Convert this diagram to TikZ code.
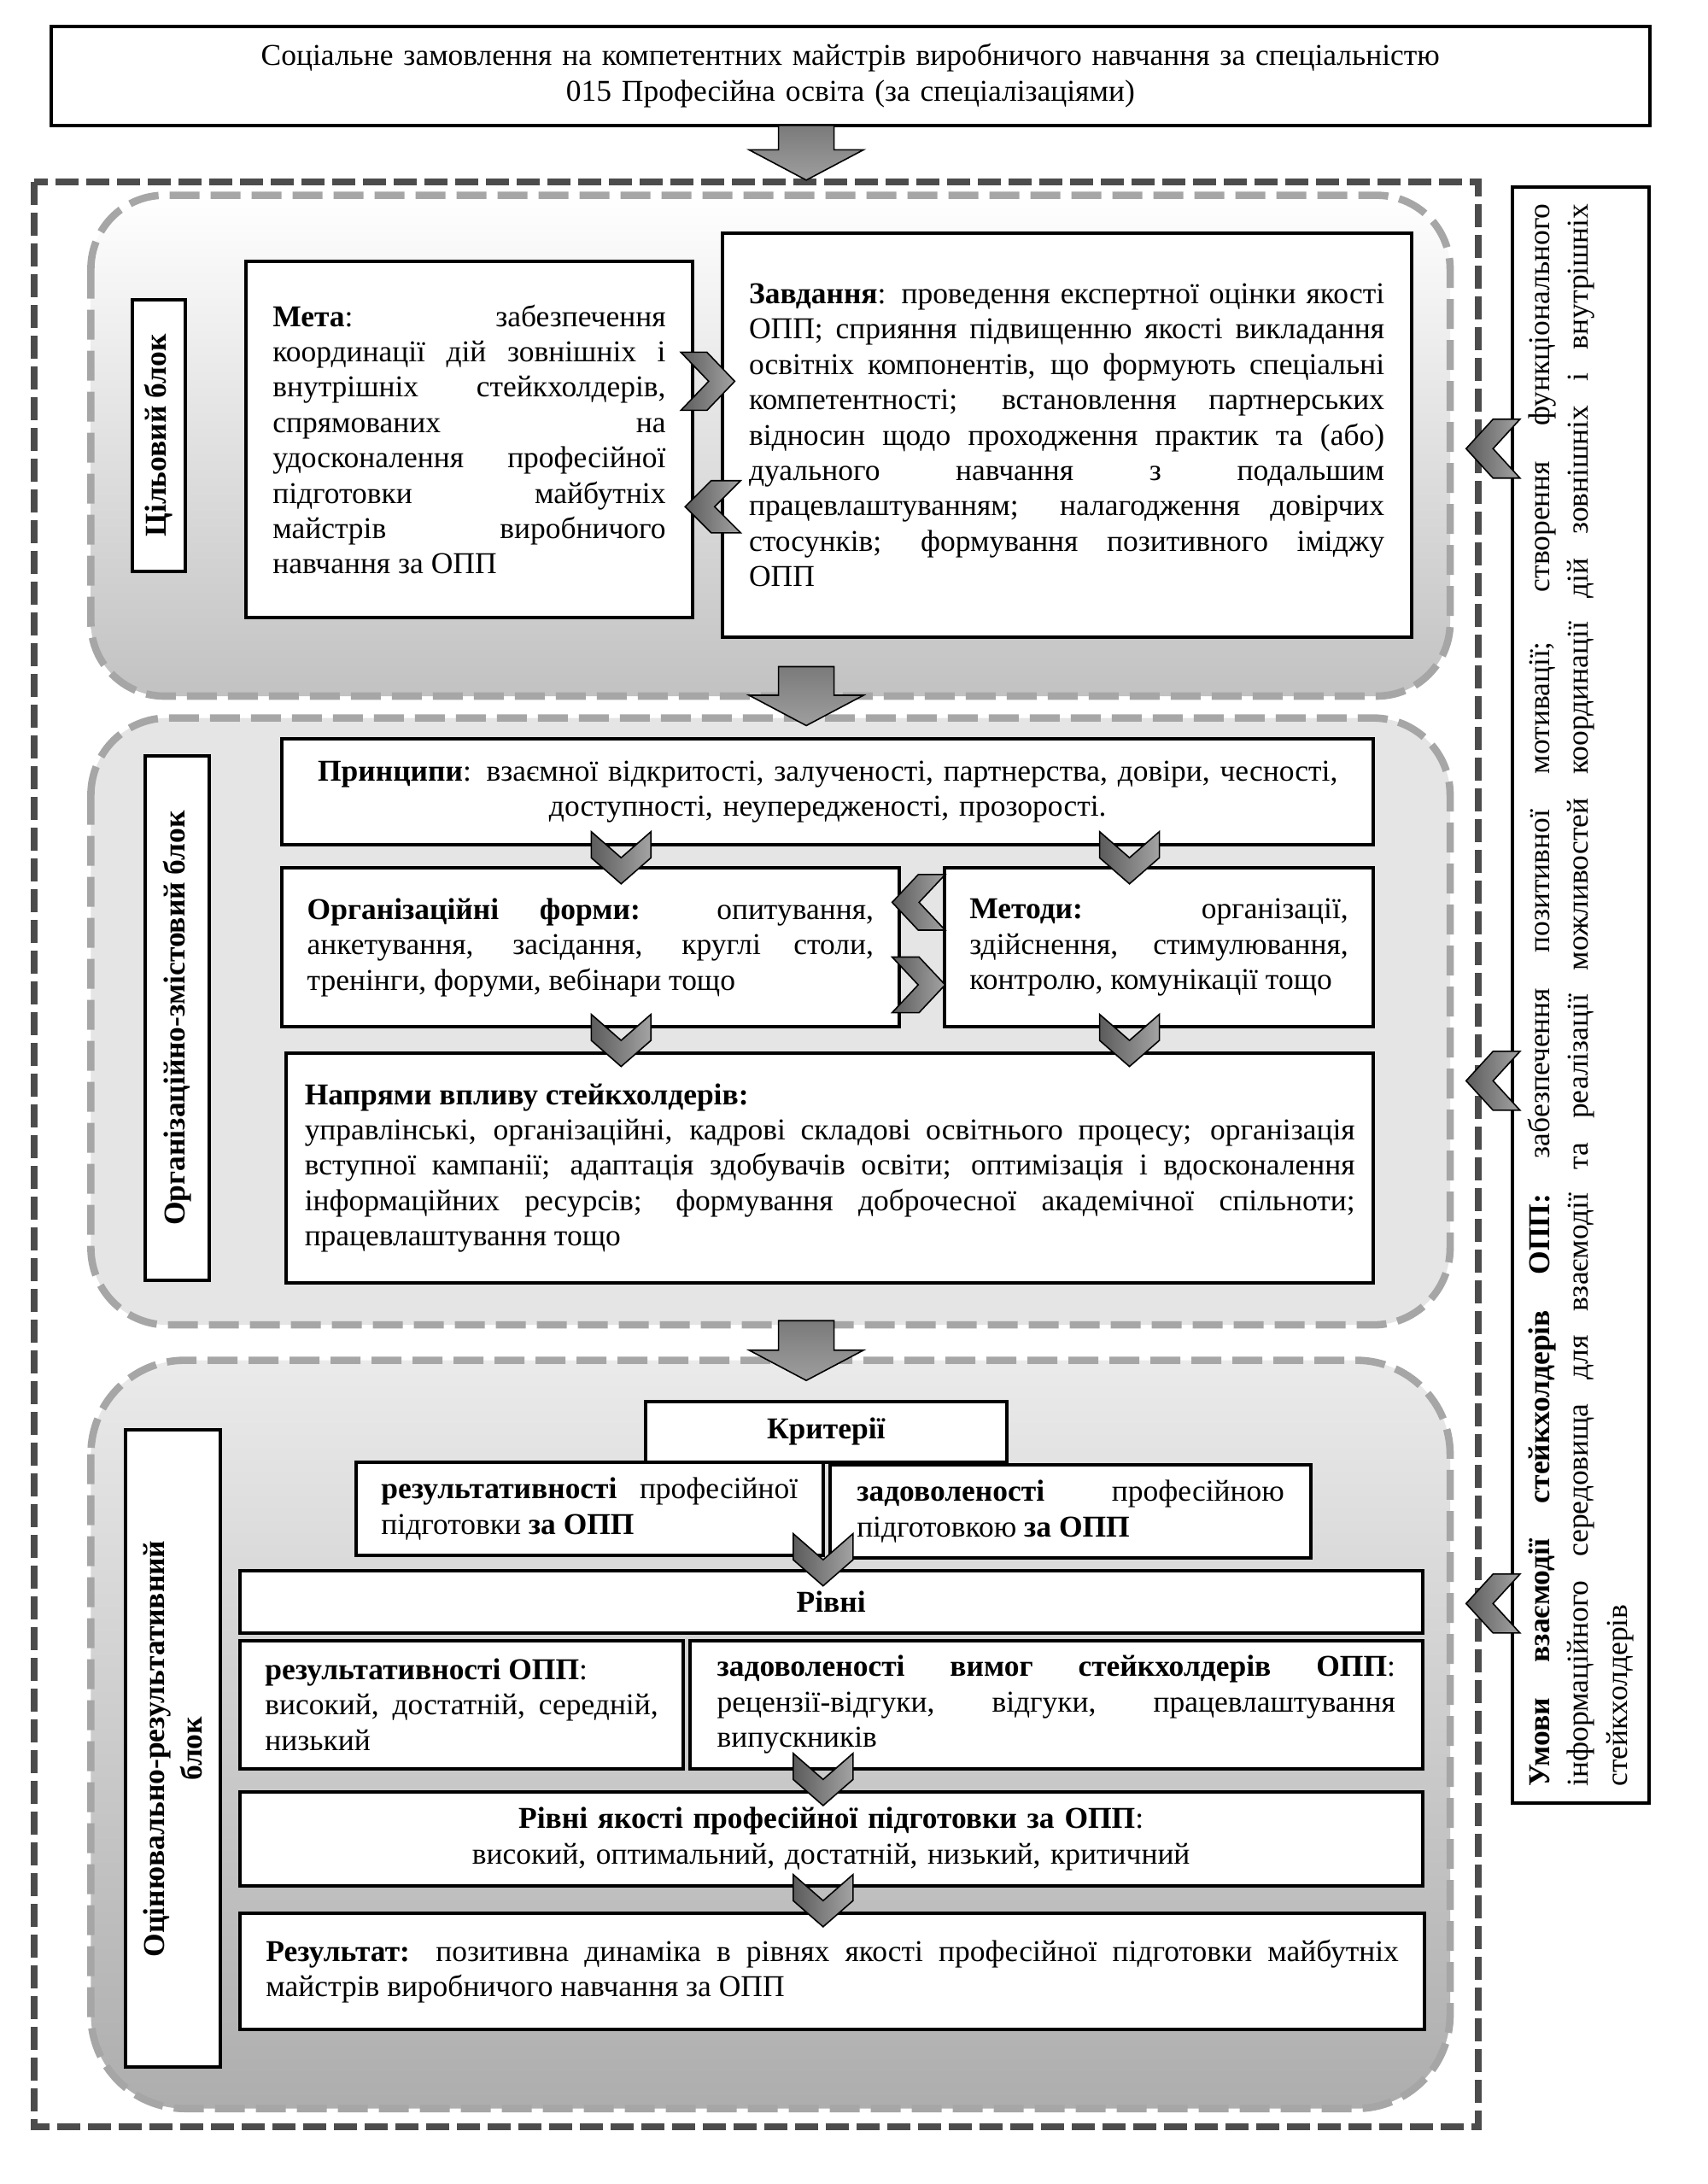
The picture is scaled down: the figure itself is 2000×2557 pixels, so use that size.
\documentclass[tikz,border=0pt]{standalone}
\usepackage{fontspec}
\setmainfont{Liberation Serif}
\tolerance=9999
\hyphenpenalty=10000
\exhyphenpenalty=10000
\emergencystretch=2em
\tikzset{
 every node/.style={font=\fontsize{18}{21}\selectfont},
 tb/.style={draw=black, line width=2pt, fill=white, inner ysep=2pt, align=justify},
 lb/.style={draw=black, line width=2pt, fill=white, font=\fontsize{18}{22}\selectfont\bfseries, align=center, inner sep=0pt},
 chev/.style={draw=black, line width=0.8pt, left color=black!64, right color=black!36},
 bigarr/.style={draw=black, line width=0.8pt, top color=black!52, bottom color=black!38},
 blk/.style={draw=black!35, line width=4.3pt, dash pattern=on 17.5pt off 6.5pt},
 outerbox/.style={draw=black!70, line width=4pt, dash pattern=on 13.5pt off 4.5pt},
}
% name x1 y1 x2 y2 pad(px) opts text
\newcommand\tbox[8]{%
 \pgfmathsetmacro\bxw{(#4-#2)/2}%
 \pgfmathsetmacro\bxh{(#5-#3)/2}%
 \pgfmathsetmacro\bxt{(#4-#2)/2-#6}%
 \pgfmathsetmacro\bxs{#6/2}%
 \node[tb, minimum width=\bxw pt, minimum height=\bxh pt, text width=\bxt pt, inner xsep=\bxs pt, #7] (#1) at ({(#2+#4)/2},{(#3+#5)/2}) {#8};}
% name x1 y1 x2 y2 text  (rotated label)
\newcommand\rlab[6]{%
 \pgfmathsetmacro\bxw{(#5-#3)/2}%
 \pgfmathsetmacro\bxh{(#4-#2)/2}%
 \node[lb, rotate=90, minimum width=\bxw pt, minimum height=\bxh pt] (#1) at ({(#2+#4)/2},{(#3+#5)/2}) {#6};}
% down chevron: cx ytop w h
\newcommand\chD[4]{\path[chev] ({#1-#3/2},#2) -- (#1,{#2+#4/2}) -- ({#1+#3/2},#2) -- ({#1+#3/2},{#2+#4/2}) -- (#1,{#2+#4}) -- ({#1-#3/2},{#2+#4/2}) -- cycle;}
% right chevron: xleft cy w h d
\newcommand\chR[5]{\path[chev] (#1,{#2-#4/2}) -- ({#1+#3-#5},{#2-#4/2}) -- ({#1+#3},#2) -- ({#1+#3-#5},{#2+#4/2}) -- (#1,{#2+#4/2}) -- ({#1+#5},#2) -- cycle;}
% left chevron: xtip cy w h d
\newcommand\chL[5]{\path[chev] ({#1+#3},{#2-#4/2}) -- ({#1+#5},{#2-#4/2}) -- (#1,#2) -- ({#1+#5},{#2+#4/2}) -- ({#1+#3},{#2+#4/2}) -- ({#1+#3-#5},#2) -- cycle;}
% big arrow: cx y0 y1
\newcommand\bigA[3]{\path[bigarr] ({#1-33},#2) -- ({#1+33},#2) -- ({#1+33},{#3-36}) -- ({#1+68},{#3-36}) -- (#1,#3) -- ({#1-68},{#3-36}) -- ({#1-33},{#3-36}) -- cycle;}

\begin{document}
\begin{tikzpicture}[x=0.5pt,y=-0.5pt]
\fill[white] (0,0) rectangle (2000,2557);
\useasboundingbox (0,0) rectangle (2000,2557);

\begin{scope}[scale=0.9855, every node/.append style={transform shape}]
% outer dashed frame
\draw[outerbox] (41,216) rectangle (1756,2527);

% blocks
\path[blk, top color=white, bottom color=black!24, rounded corners=43pt] (108,232) rectangle (1723,827);
\path[blk, fill=black!10, rounded corners=45pt] (108,853) rectangle (1723,1574);
\path[blk, top color=black!8, bottom color=black!32, rounded corners=55pt] (108,1616) rectangle (1723,2505);

% top box
\tbox{top}{61}{31}{1960}{149}{30}{align=center}{Соціальне замовлення на компетентних майстрів виробничого навчання за спеціальністю\\015 Професійна освіта (за спеціалізаціями)}

% right box
\node[draw=black, line width=2pt, fill=white, rotate=90, minimum width=960pt, minimum height=81pt, text width=940pt, inner xsep=10pt, align=justify, font=\fontsize{18}{23}\selectfont] (cond) at (1878,1182) {\textbf{Умови взаємодії стейкхолдерів ОПП:} забезпечення позитивної мотивації; створення функціонального\linebreak інформаційного середовища для взаємодії та реалізації можливостей координації дій зовнішніх і внутрішніх\linebreak стейкхолдерів};

% block 1
\rlab{lab1}{157}{356}{220}{679}{Цільовий блок}
\tbox{meta}{292}{310}{823}{734}{32}{}{\textbf{Мета}: забезпечення\linebreak координації дій зовнішніх і\linebreak внутрішніх стейкхолдерів,\linebreak спрямованих на\linebreak удосконалення професійної\linebreak підготовки майбутніх\linebreak майстрів виробничого\linebreak навчання за ОПП}
\tbox{task}{858}{277}{1677}{757}{32}{}{\textbf{Завдання}: проведення експертної оцінки якості\linebreak ОПП; сприяння підвищенню якості викладання\linebreak освітніх компонентів, що формують спеціальні\linebreak компетентності; встановлення партнерських\linebreak відносин щодо проходження практик та (або)\linebreak дуального навчання з подальшим\linebreak працевлаштуванням; налагодження довірчих\linebreak стосунків; формування позитивного іміджу\linebreak ОПП}

% block 2
\rlab{lab2}{172}{898}{249}{1521}{Організаційно-змістовий блок}
\tbox{princ}{335}{878}{1632}{1004}{30}{align=center}{\textbf{Принципи}: взаємної відкритості, залученості, партнерства, довіри, чесності,\\доступності, неупередженості, прозорості.}
\tbox{forms}{335}{1031}{1068}{1220}{30}{}{\textbf{Організаційні форми:} опитування,\linebreak анкетування, засідання, круглі столи,\linebreak тренінги, форуми, вебінари тощо}
\tbox{meth}{1122}{1031}{1632}{1220}{30}{}{\textbf{Методи:} організації,\linebreak здійснення, стимулювання,\linebreak контролю, комунікації тощо}
\tbox{dir}{340}{1251}{1632}{1524}{22}{}{\textbf{Напрями впливу стейкхолдерів:}\\управлінські, організаційні, кадрові складові освітнього процесу; організація\linebreak вступної кампанії; адаптація здобувачів освіти; оптимізація і вдосконалення\linebreak інформаційних ресурсів; формування доброчесної академічної спільноти;\linebreak працевлаштування тощо}

% block 3
\rlab{lab3}{149}{1699}{262}{2456}{Оцінювально-результативний\\блок}
\tbox{crit}{767}{1665}{1196}{1737}{30}{align=center, font=\fontsize{18}{21}\selectfont\bfseries}{Критерії}
\tbox{cres}{423}{1737}{978}{1848}{30}{}{\textbf{результативності} професійної\linebreak підготовки \textbf{за ОПП}}
\tbox{csat}{986}{1740}{1558}{1851}{32}{}{\textbf{задоволеності} професійною\linebreak підготовкою \textbf{за ОПП}}
\tbox{lev}{285}{1866}{1690}{1940}{30}{align=center, font=\fontsize{18}{21}\selectfont\bfseries}{Рівні}
\tbox{lres}{285}{1949}{812}{2101}{30}{}{\textbf{результативності ОПП}:\\високий, достатній, середній,\linebreak низький}
\tbox{lsat}{820}{1949}{1690}{2101}{32}{}{\textbf{задоволеності вимог стейкхолдерів ОПП}:\linebreak рецензії-відгуки, відгуки, працевлаштування\linebreak випускників}
\tbox{qual}{285}{2129}{1690}{2240}{30}{align=center}{\textbf{Рівні якості професійної підготовки за ОПП}:\\високий, оптимальний, достатній, низький, критичний}
\tbox{res}{285}{2273}{1693}{2411}{31}{}{\textbf{Результат:} позитивна динаміка в рівнях якості професійної підготовки майбутніх\linebreak майстрів виробничого навчання за ОПП}

% big arrows
\bigA{958}{149}{214}
\bigA{958}{792}{862}
\bigA{958}{1569}{1640}

% chevrons block 1
\chR{809}{453}{64}{69}{33}
\chL{814}{602}{66}{62}{31}
% chevrons block 2
\chD{738}{988}{71}{62}
\chD{1342}{988}{71}{62}
\chD{738}{1205}{71}{62}
\chD{1342}{1205}{71}{62}
\chL{1060}{1072}{63}{66}{31}
\chR{1060}{1170}{63}{66}{31}
% chevrons block 3
\chD{978}{1822}{71}{62}
\chD{978}{2083}{71}{62}
\chD{978}{2227}{71}{62}
% right side chevrons
\chL{1742}{533}{64}{70}{32}
\chL{1742}{1284}{64}{70}{32}
\chL{1742}{1905}{64}{70}{32}
\end{scope}
\end{tikzpicture}
\end{document}
